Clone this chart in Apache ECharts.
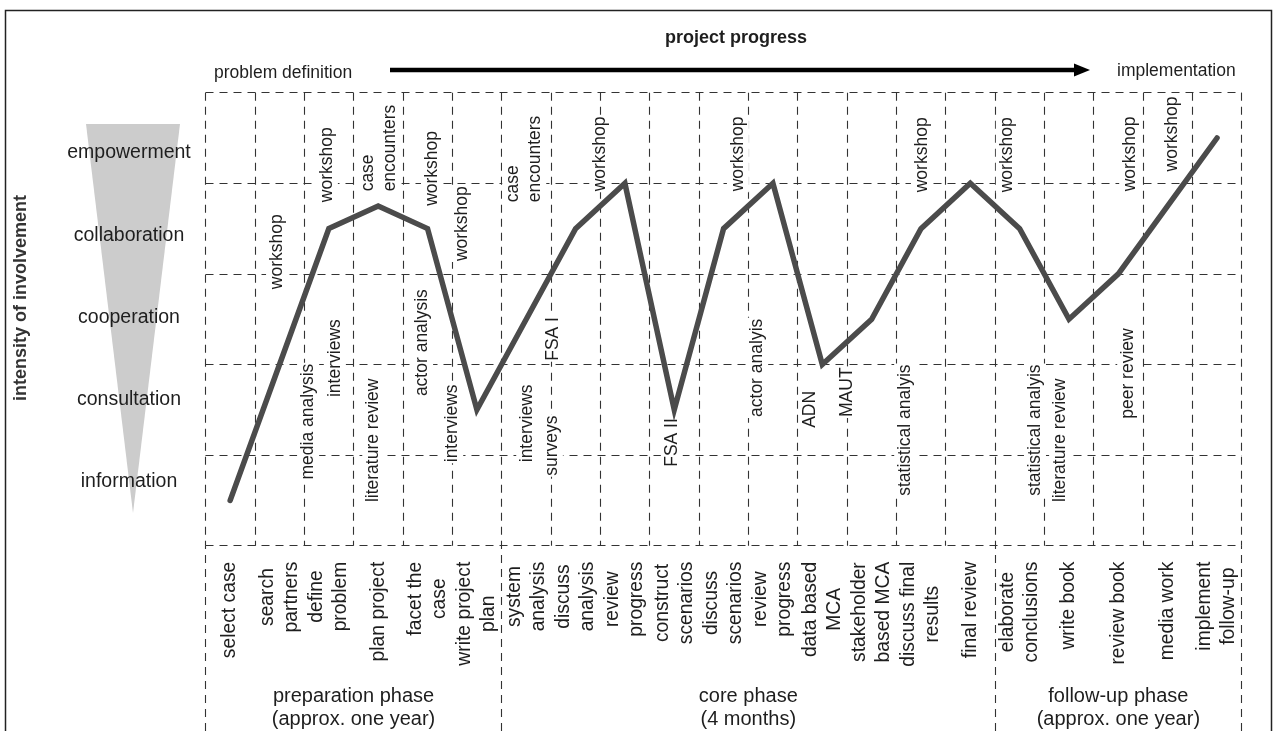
<!DOCTYPE html>
<html>
<head>
<meta charset="utf-8">
<script src="https://cdn.jsdelivr.net/npm/echarts@6/dist/echarts.min.js"></script>
<style>
  html, body { margin: 0; padding: 0; background: #fff; }
  #chart { width: 1276px; height: 731px; }
</style>
</head>
<body>
<div id="chart"></div>
<script>
// involvement levels, bottom to top
const levelNames = ["information", "consultation", "cooperation", "collaboration", "empowerment"];

// one column per project step
const steps = [
  "select case", "search\npartners", "define\nproblem", "plan project", "facet the\ncase", "write project\nplan",
  "system\nanalysis", "discuss\nanalysis", "review\nprogress", "construct\nscenarios", "discuss\nscenarios", "review\nprogress",
  "data based\nMCA", "stakeholder\nbased MCA", "discuss final\nresults", "final review",
  "elaborate\nconclusions", "write book", "review book", "media work", "implement\nfollow-up"
];

// intensity of involvement per step (0 = bottom of "information", 5 = top of "empowerment")
const involvement = [0.5, 2.0, 3.5, 3.75, 3.5, 1.5, 2.5, 3.5, 4.0, 1.5, 3.5, 4.0, 2.0, 2.5, 3.5, 4.0, 3.5, 2.5, 3.0, 3.75, 4.5];

// methods written along the curve: [text, column position, level where text starts]
const methods = [
  ["workshop", 1.45, 2.82],
  ["workshop", 2.46, 3.78],
  ["media analysis", 2.08, 0.72],
  ["interviews", 2.62, 1.63],
  ["case\nencounters", 3.52, 3.9],
  ["literature review", 3.4, 0.47],
  ["workshop", 4.59, 3.74],
  ["actor analysis", 4.39, 1.64],
  ["workshop", 5.2, 3.13],
  ["interviews", 5.0, 0.91],
  ["case\nencounters", 6.46, 3.78],
  ["interviews", 6.52, 0.91],
  ["FSA I", 7.04, 2.03],
  ["surveys", 7.02, 0.76],
  ["workshop", 8.0, 3.9],
  ["FSA II", 9.45, 0.86],
  ["workshop", 10.79, 3.9],
  ["actor analyis", 11.18, 1.41],
  ["ADN", 12.25, 1.29],
  ["MAUT", 13.0, 1.41],
  ["statistical analyis", 14.18, 0.54],
  ["workshop", 14.52, 3.89],
  ["workshop", 16.24, 3.89],
  ["statistical analyis", 16.81, 0.54],
  ["literature review", 17.32, 0.47],
  ["peer review", 18.7, 1.39],
  ["workshop", 18.74, 3.9],
  ["workshop", 19.59, 4.12]
];

const phaseNames = ["preparation phase\n(approx. one year)", "core phase\n(4 months)", "follow-up phase\n(approx. one year)"];
const phaseBounds = [0, 6, 16, 21];

const FONT = "'Liberation Sans', Arial, sans-serif";
const TEXT = "#1e1e1e";
const dashed = { color: "#333", width: 1.1, type: [8, 6] };

const chart = echarts.init(document.getElementById("chart"));

const phaseData = phaseNames.map((name, i) => ({
  name: name,
  value: [(phaseBounds[i] + phaseBounds[i + 1]) / 2, 0.124],
}));

const option = {
  animation: false,
  backgroundColor: "#fff",
  title: [
    { text: "project progress", left: 660, top: 24,
      textStyle: { fontFamily: FONT, fontSize: 18, fontWeight: "bold", color: TEXT } },
    { text: "problem definition", left: 209, top: 59,
      textStyle: { fontFamily: FONT, fontSize: 17.5, fontWeight: "normal", color: TEXT } },
    { text: "implementation", left: 1112, top: 57,
      textStyle: { fontFamily: FONT, fontSize: 17.5, fontWeight: "normal", color: TEXT } },
  ],
  grid: [
    { left: 205.5, right: 34.3, top: 92.7, bottom: 185.3 },
    { left: 205.5, right: 34.3, top: 545.7, bottom: 0 },
    { left: 205.5, width: 10, top: 111.9, bottom: 207.9 },
  ],
  xAxis: [
    {
      type: "category", gridIndex: 0, data: steps, boundaryGap: true,
      axisLine: { show: false }, axisTick: { show: false },
      axisLabel: {
        interval: 0, rotate: 90, margin: 16,
        formatter: (v) => v.split("\n").map((s) => "{c|" + s + "}").join("\n"),
        rich: { c: { align: "center", fontFamily: FONT, fontSize: 19.3, lineHeight: 24, color: TEXT } },
      },
      splitLine: { show: true, interval: 0, lineStyle: dashed },
    },
    { type: "value", gridIndex: 0, min: 0, max: 21, show: false },
    { type: "value", gridIndex: 1, min: 0, max: 21, show: false },
    { type: "value", gridIndex: 2, show: false },
  ],
  yAxis: [
    {
      type: "value", gridIndex: 0, min: 0, max: 5, interval: 1,
      axisLine: { show: false }, axisTick: { show: false }, axisLabel: { show: false },
      splitLine: { show: true, lineStyle: dashed },
    },
    { type: "value", gridIndex: 1, min: 0, max: 1, show: false },
    {
      type: "category", gridIndex: 2, data: levelNames, z: 5,
      axisLine: { show: false }, axisTick: { show: false }, splitLine: { show: false },
      axisLabel: { margin: 76.5, align: "center", fontFamily: FONT, fontSize: 19.5, color: TEXT },
    },
  ],
  graphic: [
    { type: "rect", z: -10, shape: { x: 5.5, y: 10.5, width: 1266, height: 740 },
      style: { fill: "none", stroke: "#222", lineWidth: 1.5 } },
    { type: "polygon", z: -10, shape: { points: [[86, 124], [180, 124], [133, 513]] },
      style: { fill: "#cccccc" } },
    { type: "line", shape: { x1: 390, y1: 70, x2: 1078, y2: 70 },
      style: { stroke: "#000", lineWidth: 4.5 } },
    { type: "polygon", shape: { points: [[1074, 63.5], [1090, 70], [1074, 76.5]] },
      style: { fill: "#000" } },
    { type: "text", x: 21, y: 298, rotation: Math.PI / 2,
      style: { text: "intensity of involvement", font: "bold 18px " + FONT, fill: "#333",
        align: "center", verticalAlign: "middle" } },
  ],
  series: [
    {
      type: "line", xAxisIndex: 0, yAxisIndex: 0, data: involvement, z: 4,
      symbol: "none", silent: true,
      lineStyle: { color: "#4b4b4b", width: 5.5, join: "miter", cap: "round" },
    },
    {
      type: "scatter", xAxisIndex: 1, yAxisIndex: 0, silent: true, z: 2,
      data: methods.map((m) => ({ name: m[0], value: [m[1], m[2]] })),
      symbolSize: 1, itemStyle: { color: "rgba(0,0,0,0)", opacity: 1 },
      label: {
        show: true, formatter: "{b}", position: "inside", rotate: 90,
        align: "left", verticalAlign: "middle",
        fontFamily: FONT, fontSize: 17.5, lineHeight: 22, color: TEXT,
        backgroundColor: "#fff", padding: [0, 1],
      },
    },
    {
      type: "scatter", xAxisIndex: 2, yAxisIndex: 1, silent: true, data: phaseData,
      symbolSize: 1, itemStyle: { color: "rgba(0,0,0,0)", opacity: 1 },
      label: {
        show: true, formatter: "{b}", position: "inside", align: "center", verticalAlign: "middle",
        fontFamily: FONT, fontSize: 20, lineHeight: 23, color: TEXT,
      },
      markLine: {
        silent: true, symbol: "none", label: { show: false }, lineStyle: dashed,
        data: phaseBounds.map((b) => ({ xAxis: b })),
      },
    },
  ],
};

chart.setOption(option);
window.addEventListener("resize", () => chart.resize());
</script>
</body>
</html>
